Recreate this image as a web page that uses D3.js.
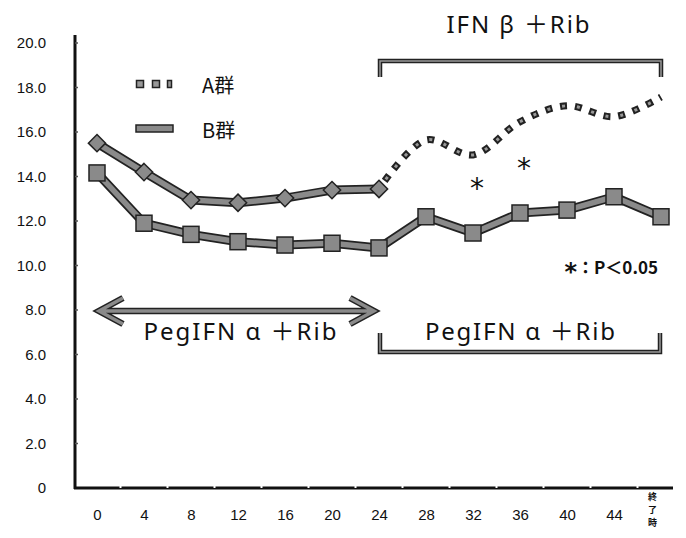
<!DOCTYPE html>
<html>
  <head>
    <meta charset="utf-8">
    <script src="https://cdn.jsdelivr.net/npm/d3@7"></script>
    <style>
        body { margin:0; background:#fff; }
        svg { display:block; }
        .lab { font-family: "Noto Sans", "Noto Sans CJK JP", sans-serif; fill:#111; }
        .jp { font-family: "Noto Sans CJK JP", "Noto Sans", sans-serif; fill:#111; }
        .num { font-family: "Liberation Sans", Arial, sans-serif; fill:#111; }
        .ast { font-family: "DejaVu Sans", sans-serif; fill:#111; }
    </style>
  </head>
  <body>
    <script>
      // weeks on the x axis, last one is end of treatment
      var weeks = ["0","4","8","12","16","20","24","28","32","36","40","44","終了時"];
      var groupA = [15.5,14.2,12.94,12.82,13.03,13.39,13.44,15.64,14.97,16.46,17.18,16.69,17.57];
      var groupB = [14.16,11.9,11.4,11.07,10.92,11.0,10.79,12.19,11.46,12.36,12.49,13.09,12.19];
      var yTicks = [0,2,4,6,8,10,12,14,16,18,20];
      var yTickLabels = ["0","2.0","4.0","6.0","8.0","10.0","12.0","14.0","16.0","18.0","20.0"];
      var sigWeeks = ["32","36"];

      var width = 686, height = 538;
      var svg = d3.select("body").append("svg")
          .attr("width", width).attr("height", height);

      var x = d3.scalePoint().domain(weeks).range([97, 661]);
      var y = d3.scaleLinear().domain([0, 20]).range([488, 43]);
      var step = x.step();

      // y axis
      var ya = svg.append("g").attr("transform", "translate(75,0)")
          .call(d3.axisLeft(y).tickValues(yTicks)
              .tickFormat(function(d, i){ return yTickLabels[i]; })
              .tickSize(0).tickPadding(29));
      ya.select(".domain").remove();
      ya.selectAll("text").attr("class", "num").attr("font-size", 15).attr("fill", "#111");
      svg.append("line").attr("x1", 75).attr("x2", 75).attr("y1", 35).attr("y2", 489)
          .attr("stroke", "#111").attr("stroke-width", 3);
      svg.selectAll(".ytk").data(yTicks.slice(1)).enter().append("line")
          .attr("x1", 75).attr("x2", 78)
          .attr("y1", function(d){ return y(d); }).attr("y2", function(d){ return y(d); })
          .attr("stroke", "#555").attr("stroke-width", 1.5);

      // x axis
      var xa = svg.append("g").attr("transform", "translate(0,488)")
          .call(d3.axisBottom(x).tickSize(0).tickPadding(21));
      xa.select(".domain").remove();
      xa.selectAll("text").attr("class", "num").attr("font-size", 15).attr("fill", "#111");
      var lastTick = xa.selectAll(".tick text").filter(function(d){ return d === "終了時"; });
      lastTick.text("").attr("class", "jp").attr("font-size", 9).attr("dy", 0).attr("y", 0)
          .attr("x", -9).attr("font-weight", "bold");
      lastTick.selectAll("tspan").data("終了時".split("")).enter().append("tspan")
          .attr("x", -9).attr("dy", function(d, i){ return i === 0 ? "1.3em" : "1.46em"; })
          .text(function(d){ return d; });
      svg.append("line").attr("x1", 74).attr("x2", 673).attr("y1", 488).attr("y2", 488)
          .attr("stroke", "#111").attr("stroke-width", 3);
      svg.selectAll(".xtk").data(weeks).enter().append("line")
          .attr("x1", function(d){ return x(d) + step / 2; })
          .attr("x2", function(d){ return x(d) + step / 2; })
          .attr("y1", 485).attr("y2", 488)
          .attr("stroke", "#fff").attr("stroke-width", 2);

      var line = d3.line().x(function(d){ return x(d.w); }).y(function(d){ return y(d.v); });
      var smooth = d3.line().x(function(d){ return x(d.w); }).y(function(d){ return y(d.v); })
          .curve(d3.curveCatmullRom.alpha(0.5));

      var ptsA = weeks.map(function(w, i){ return {w: w, v: groupA[i]}; });
      var ptsB = weeks.map(function(w, i){ return {w: w, v: groupB[i]}; });

      // A group dotted part (after week 24)
      var dotA = ptsA.slice(6);
      svg.append("path").attr("d", smooth(dotA)).attr("fill", "none")
          .attr("stroke", "#222").attr("stroke-width", 7).attr("stroke-dasharray", "7,8")
          .attr("stroke-dashoffset", -10);
      svg.append("path").attr("d", smooth(dotA)).attr("fill", "none")
          .attr("stroke", "#999").attr("stroke-width", 3).attr("stroke-dasharray", "3,12")
          .attr("stroke-dashoffset", -12);

      // solid lines
      function thickLine(pts) {
          svg.append("path").attr("d", line(pts)).attr("fill", "none")
              .attr("stroke", "#222").attr("stroke-width", 9).attr("stroke-linejoin", "round");
          svg.append("path").attr("d", line(pts)).attr("fill", "none")
              .attr("stroke", "#8a8a8a").attr("stroke-width", 5.5).attr("stroke-linejoin", "round");
      }
      thickLine(ptsB);
      thickLine(ptsA.slice(0, 7));

      // B squares
      svg.selectAll(".sqB").data(ptsB).enter().append("rect")
          .attr("x", function(d){ return x(d.w) - 8; })
          .attr("y", function(d){ return y(d.v) - 8; })
          .attr("width", 16).attr("height", 16)
          .attr("fill", "#8a8a8a").attr("stroke", "#222").attr("stroke-width", 1.5);

      // A diamonds
      svg.selectAll(".dmA").data(ptsA.slice(0, 7)).enter().append("path")
          .attr("d", d3.symbol().type(d3.symbolDiamond2).size(190))
          .attr("transform", function(d){ return "translate(" + x(d.w) + "," + y(d.v) + ")"; })
          .attr("fill", "#8a8a8a").attr("stroke", "#222").attr("stroke-width", 1.5);

      // legend
      [140, 156, 171].forEach(function(lx, i){
          svg.append("rect").attr("x", lx - 3.5).attr("y", 80.5)
              .attr("width", i === 2 ? 4 : 7).attr("height", 7)
              .attr("fill", "#999").attr("stroke", "#222").attr("stroke-width", 1.5);
      });
      svg.append("rect").attr("x", 136).attr("y", 125).attr("width", 37).attr("height", 7)
          .attr("fill", "#8a8a8a").attr("stroke", "#222").attr("stroke-width", 1.5);
      svg.append("text").attr("class", "jp").attr("x", 202).attr("y", 93)
          .attr("font-size", 20).text("A群");
      svg.append("text").attr("class", "jp").attr("x", 202).attr("y", 138)
          .attr("font-size", 20).text("B群");

      // brackets
      function bracket(x0, x1, yb, yl) {
          var d = "M" + x0 + "," + yl + "L" + x0 + "," + yb + "L" + x1 + "," + yb + "L" + x1 + "," + yl;
          svg.append("path").attr("d", d).attr("fill", "none")
              .attr("stroke", "#222").attr("stroke-width", 4.5);
          svg.append("path").attr("d", d).attr("fill", "none")
              .attr("stroke", "#999").attr("stroke-width", 1.5);
      }
      bracket(x("24") + 1, 661, 61, 77);
      bracket(x("24") + 1, 660, 352, 333);

      svg.append("text").attr("class", "lab").attr("x", 518).attr("y", 33)
          .attr("text-anchor", "middle").attr("font-size", 24)
          .attr("textLength", 143).attr("lengthAdjust", "spacing").text("IFN β ＋Rib");

      // double arrow
      var ay = 311, ax0 = 99, ax1 = 374;
      var arrow = "M" + (ax0 + 24) + "," + (ay - 13) + "L" + ax0 + "," + ay + "L" + (ax0 + 24) + "," + (ay + 13) +
          "M" + ax0 + "," + ay + "L" + ax1 + "," + ay +
          "M" + (ax1 - 24) + "," + (ay - 13) + "L" + ax1 + "," + ay + "L" + (ax1 - 24) + "," + (ay + 13);
      svg.append("path").attr("d", arrow).attr("fill", "none")
          .attr("stroke", "#222").attr("stroke-width", 6.5).attr("stroke-linejoin", "miter");
      svg.append("path").attr("d", arrow).attr("fill", "none")
          .attr("stroke", "#8a8a8a").attr("stroke-width", 3.5).attr("stroke-linejoin", "miter");

      svg.append("text").attr("class", "lab").attr("x", 240).attr("y", 340)
          .attr("text-anchor", "middle").attr("font-size", 24)
          .attr("textLength", 193).attr("lengthAdjust", "spacing").text("PegIFN α ＋Rib");
      svg.append("text").attr("class", "lab").attr("x", 520).attr("y", 340)
          .attr("text-anchor", "middle").attr("font-size", 24)
          .attr("textLength", 190).attr("lengthAdjust", "spacing").text("PegIFN α ＋Rib");

      // significance marks
      svg.selectAll(".sig").data(sigWeeks).enter().append("text").attr("class", "ast")
          .attr("x", function(d){ return x(d) + 4; })
          .attr("y", function(d, i){ return i === 0 ? 198 : 178; })
          .attr("text-anchor", "middle").attr("font-size", 28).text("*");
      var pt = svg.append("text").attr("class", "jp").attr("x", 658).attr("y", 274)
          .attr("text-anchor", "end").attr("font-size", 17).attr("font-weight", "bold");
      pt.append("tspan").attr("class", "ast").attr("font-size", 24).attr("dy", 6).text("*");
      pt.append("tspan").attr("dy", -6).text("：P＜0.05");
    </script>
  </body>
</html>
